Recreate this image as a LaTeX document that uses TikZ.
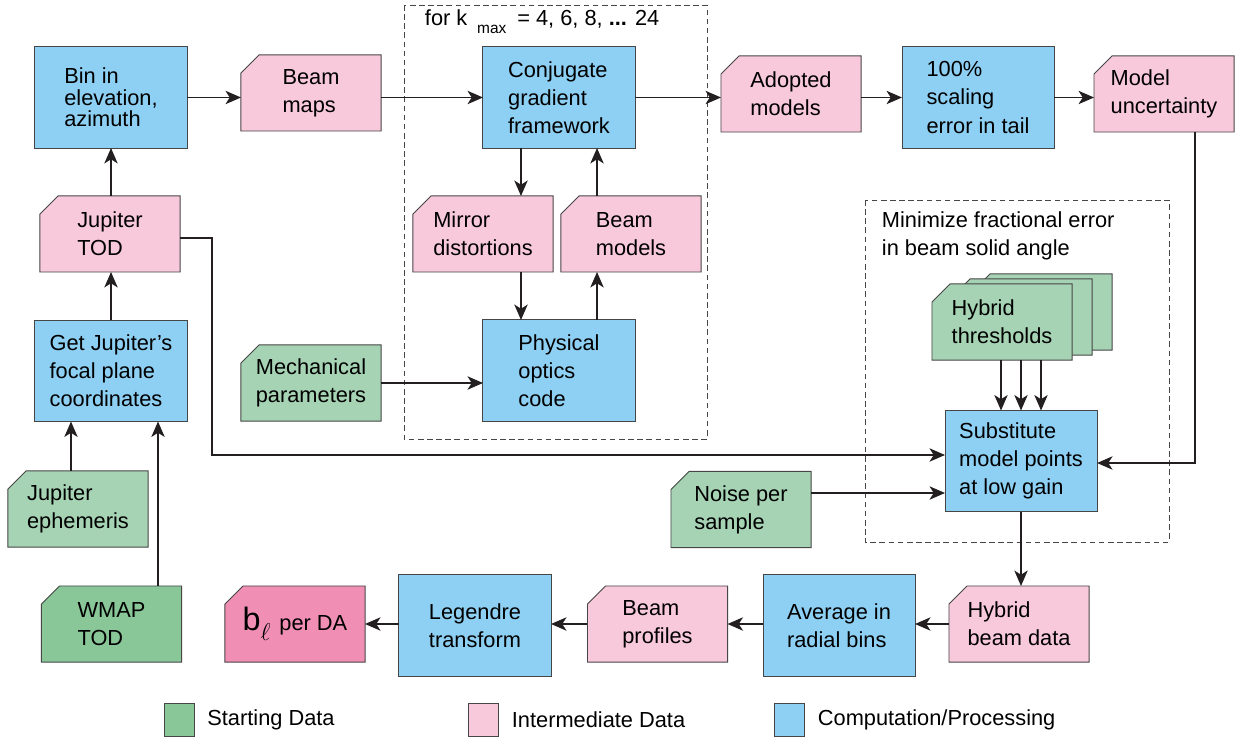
\documentclass[tikz,border=0pt]{standalone}
\usepackage{fontspec}
\setmainfont{Liberation Sans}
\usetikzlibrary{arrows.meta}
\definecolor{compblue}{RGB}{142,208,244}
\definecolor{interpink}{RGB}{248,200,219}
\definecolor{finalpink}{RGB}{240,143,179}
\definecolor{startgreen}{RGB}{165,211,180}
\definecolor{startdark}{RGB}{137,199,152}
\definecolor{edge}{RGB}{70,70,70}
\definecolor{arrowc}{RGB}{35,31,32}
\newcommand\cornercut{0.45cm}
\makeatletter
\pgfdeclareshape{cutcorner}{%
    \inheritsavedanchors[from=rectangle]%
    \inheritanchorborder[from=rectangle]%
    \inheritanchor[from=rectangle]{center}%
    \inheritanchor[from=rectangle]{north}%
    \inheritanchor[from=rectangle]{south}%
    \inheritanchor[from=rectangle]{east}%
    \inheritanchor[from=rectangle]{west}%
    \inheritanchor[from=rectangle]{north east}%
    \inheritanchor[from=rectangle]{north west}%
    \inheritanchor[from=rectangle]{south east}%
    \inheritanchor[from=rectangle]{south west}%
    \inheritanchor[from=rectangle]{mid}%
    \inheritanchor[from=rectangle]{base}%
    \inheritanchor[from=rectangle]{text}%
    \backgroundpath{%
        \southwest\edef\cutxa{\the\pgf@x}\edef\cutya{\the\pgf@y}%
        \northeast\edef\cutxb{\the\pgf@x}\edef\cutyb{\the\pgf@y}%
        \pgfpathmoveto{\pgfpoint{\cutxa+\cornercut}{\cutyb}}%
        \pgfpathlineto{\pgfpoint{\cutxb}{\cutyb}}%
        \pgfpathlineto{\pgfpoint{\cutxb}{\cutya}}%
        \pgfpathlineto{\pgfpoint{\cutxa}{\cutya}}%
        \pgfpathlineto{\pgfpoint{\cutxa}{\cutyb-\cornercut}}%
        \pgfpathclose
    }%
}
\makeatother
\tikzset{%
    box/.style={draw=edge, line width=0.7pt, align=left, inner sep=2pt, outer sep=0pt, font=\fontsize{15.5}{20}\selectfont},
    comp/.style={box, rectangle, fill=compblue, minimum width=3.8cm, minimum height=2.525cm},
    dat/.style={box, cutcorner, minimum width=3.5cm, minimum height=1.9cm},
    inter/.style={dat, fill=interpink},
    start/.style={dat, fill=startgreen},
    arr/.style={line width=0.9pt, draw=arrowc, -{Stealth[length=11pt, width=9.5pt, inset=3pt]}},
    grp/.style={draw=edge, line width=0.6pt, dash pattern=on 4pt off 2.5pt},
    legbox/.style={draw=edge, line width=0.6pt, minimum width=0.75cm, minimum height=0.825cm, inner sep=0pt},
    lab/.style={font=\fontsize{15.5}{20}\selectfont, align=left},
}
\begin{document}
\begin{tikzpicture}[x=0.025cm, y=-0.025cm]
    \useasboundingbox (0,0) rectangle (1240,740);
    \draw [grp] (404,5) rectangle (707,439);
    \draw [grp] (865,200) rectangle (1169,542);
    \node [lab, anchor=west] (kmax) at (420,22) {for k\hspace{0.45em}\raisebox{-0.7ex}{\fontsize{11}{11}\selectfont max}\hspace{0.5em}= 4, 6, 8, {\bfseries ...} 24};
    \node [lab, anchor=north west] (minerr) at (877,207) {Minimize fractional error\\in beam solid angle};
    \node [comp, font=\fontsize{15.5}{15.3}\selectfont] (bin) at (111,97.5) {Bin in\\elevation,\\azimuth};
    \node [inter] (beammaps) at (311,93) {Beam\\maps};
    \node [inter] (jtod) at (110,234) {Jupiter\\TOD};
    \node [comp] (getjup) at (111,371) {Get Jupiter's\\focal plane\\coordinates};
    \node [start] (jeph) at (78,509) {Jupiter\\ephemeris};
    \node [start, fill=startdark] (wmap) at (111.5,624) {WMAP\\TOD};
    \node [comp] (cgf) at (559,97.5) {Conjugate\\gradient\\framework};
    \node [inter] (mirror) at (483,234) {Mirror\\distortions};
    \node [inter] (bmodels) at (631,234) {Beam\\models};
    \node [comp] (poc) at (559,370.5) {Physical\\optics\\code};
    \node [start] (mech) at (311,383) {Mechanical\\parameters};
    \node [inter] (adopted) at (791,94) {Adopted\\models};
    \node [comp] (scaling) at (978,97.5) {100\%\\scaling\\error in tail};
    \node [inter] (munc) at (1164,94) {Model\\uncertainty};
    \node [start] (hybc) at (1042,312) {};
    \node [start] (hybb) at (1022,317) {};
    \node [start] (hyb) at (1002,322) {Hybrid\\thresholds};
    \node [comp] (subst) at (1021,461) {Substitute\\model points\\at low gain};
    \node [start] (noise) at (741,509.5) {Noise per\\sample};
    \node [inter] (hbd) at (1019,624) {Hybrid\\beam data};
    \node [comp] (avg) at (839,625.5) {Average in\\radial bins};
    \node [inter] (bprof) at (657.5,624) {Beam\\profiles};
    \node [comp] (leg) at (475,625.5) {Legendre\\transform};
    \node [inter, fill=finalpink] (bell) at (295,624) {{\fontsize{23}{23}\selectfont b}\raisebox{-0.9ex}{\fontsize{17}{17}\selectfont$\ell$}\hspace{0.4em}per DA};
    \draw [arr] (bin.east) -- (bin.east -| beammaps.west);
    \draw [arr] (beammaps.east |- bin.east) -- (cgf.west);
    \draw [arr] (cgf.east) -- (cgf.east -| adopted.west);
    \draw [arr] (adopted.east |- scaling.west) -- (scaling.west);
    \draw [arr] (scaling.east) -- (scaling.east -| munc.west);
    \draw [arr] (bin.south |- jtod.north) -- (bin.south);
    \draw [arr] (getjup.north) -- (getjup.north |- jtod.south);
    \draw [arr] ([xshift=-1cm]getjup.south |- jeph.north) -- ([xshift=-1cm]getjup.south);
    \draw [arr] ([xshift=1.175cm]getjup.south |- wmap.north) -- ([xshift=1.175cm]getjup.south);
    \draw [arr] ([xshift=-0.95cm]cgf.south) -- ([xshift=-0.95cm]cgf.south |- mirror.north);
    \draw [arr] ([xshift=0.95cm]cgf.south |- bmodels.north) -- ([xshift=0.95cm]cgf.south);
    \draw [arr] ([xshift=-0.95cm]poc.north |- mirror.south) -- ([xshift=-0.95cm]poc.north);
    \draw [arr] ([xshift=0.95cm]poc.north) -- ([xshift=0.95cm]poc.north |- bmodels.south);
    \draw [arr] (mech.east) -- (mech.east -| poc.west);
    \draw [arr] ([xshift=0.775cm]munc.south) |- ([yshift=-0.05cm]subst.east);
    \draw [arr] ([yshift=-0.1cm]jtod.east) -- ++(32,0) |- ([yshift=0.15cm]subst.west);
    \draw [arr] ([yshift=-0.8cm]subst.west -| noise.east) -- ([yshift=-0.8cm]subst.west);
    \foreach \dx in {-0.5,0,0.5}
        \draw [arr] ([xshift=\dx cm]subst.north |- hyb.south) -- ([xshift=\dx cm]subst.north);
    \draw [arr] (subst.south) -- (subst.south |- hbd.north);
    \draw [arr] (hbd.west) -- (hbd.west -| avg.east);
    \draw [arr] (bprof.east -| avg.west) -- (bprof.east);
    \draw [arr] (bprof.west) -- (bprof.west -| leg.east);
    \draw [arr] (bell.east -| leg.west) -- (bell.east);
    \node [legbox, fill=startdark] (kstart) at (179,719.5) {};
    \node [legbox, fill=interpink] (kinter) at (483.5,719.5) {};
    \node [legbox, fill=compblue] (kcomp) at (789.5,719.5) {};
    \node [lab, right=0.2cm] (tstart) at (kstart.east) {Starting Data};
    \node [lab, right=0.2cm] (tinter) at (kinter.east) {Intermediate Data};
    \node [lab, right=0.2cm] (tcomp) at (kcomp.east) {Computation/Processing};
\end{tikzpicture}
\end{document}
